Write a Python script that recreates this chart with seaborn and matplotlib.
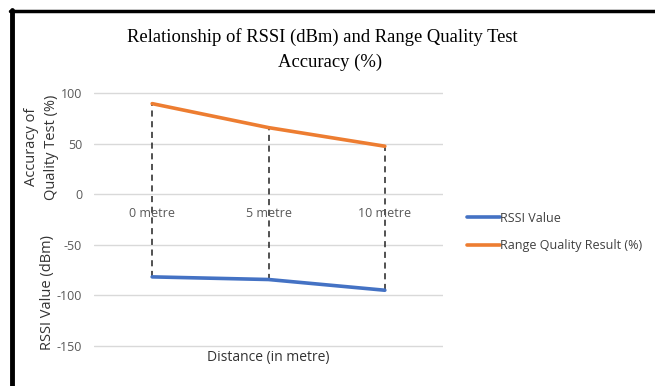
import matplotlib
matplotlib.use("Agg")
import matplotlib.pyplot as plt
import seaborn as sns
import pandas as pd
from matplotlib.lines import Line2D

categories = ["0 metre", "5 metre", "10 metre"]
rssi_values = [-81.7, -84.3, -94.9]
accuracy_values = [89.5, 65.8, 47.4]
y_ticks = [100, 50, 0, -50, -100, -150]

sns.set_theme(style="white")
plt.rcParams["font.family"] = ["Open Sans", "DejaVu Sans"]

W, H = 655, 386
# y: 100 -> px 93, -150 -> px 346 ; pad 5 units each side
ppu = (346 - 93) / 250
top_px = 93 - 5 * ppu
bot_px = 346 + 5 * ppu
fig = plt.figure(figsize=(W / 100, H / 100), dpi=100)
ax = fig.add_axes([94 / W, 1 - bot_px / H, (443 - 94) / W, (bot_px - top_px) / H])

df = pd.DataFrame({
    "Distance": categories * 2,
    "Value": rssi_values + accuracy_values,
    "Series": ["RSSI Value"] * 3 + ["Range Quality Result (%)"] * 3,
})
palette = {"RSSI Value": "#4472C4", "Range Quality Result (%)": "#ED7D31"}
sns.lineplot(data=df, x="Distance", y="Value", hue="Series", palette=palette,
             linewidth=2.6, ax=ax, sort=False, legend=False)

xs = list(range(len(categories)))
ax.vlines(xs, rssi_values, accuracy_values, colors="#222222",
          linestyles=(0, (4, 3)), linewidth=1.1, zorder=1)

ax.set_xlim(-0.5, len(categories) - 0.5)
ax.set_ylim(-155, 105)
ax.set_yticks(y_ticks)
ax.set_yticklabels([str(t) for t in y_ticks], color="#595959", fontsize=9)
ax.tick_params(axis="y", length=0, pad=8.5)
ax.set_xticks([])
ax.set_xlabel("")
ax.set_ylabel("")
for t in y_ticks:
    ax.axhline(t, color="#D9D9D9", linewidth=1, zorder=0)
for s in ax.spines.values():
    s.set_visible(False)

for x, c in zip(xs, categories):
    ax.annotate(c, xy=(x, 0), xytext=(0, -14), textcoords="offset points",
                ha="center", va="center", fontsize=9, color="#595959")

fig.text(268 / W, 1 - 358 / H, "Distance (in metre)", ha="center", va="center",
         fontsize=10, color="#333333")
fig.text(41.5 / W, 1 - 147 / H, "Accuracy of\nQuality Test (%)", ha="center",
         va="center", rotation=90, fontsize=10.5, color="#333333", linespacing=1.4)
fig.text(48 / W, 1 - 293 / H, "RSSI Value (dBm)", ha="center", va="center",
         rotation=90, fontsize=10.5, color="#333333")

fig.text(322 / W, 1 - 37 / H, "Relationship of RSSI (dBm) and Range Quality Test",
         ha="center", va="center", fontsize=13.4, family="Liberation Serif",
         color="#000000")
fig.text(330 / W, 1 - 62 / H, "Accuracy (%)", ha="center", va="center",
         fontsize=13.4, family="Liberation Serif", color="#000000")

handles = [Line2D([], [], color=palette[k], linewidth=2.6) for k in palette]
fig.legend(handles, list(palette.keys()), loc="center left",
           bbox_to_anchor=(456 / W, 1 - 232 / H), frameon=False, fontsize=9,
           handlelength=2.6, handletextpad=0.0, labelspacing=1.15,
           labelcolor="#404040")

fig.add_artist(Line2D([12 / W, 12 / W], [0, 1 - 10 / H], color="black",
                      linewidth=3.5, transform=fig.transFigure))
fig.add_artist(Line2D([10 / W, 1], [1 - 11 / H, 1 - 11 / H], color="black",
                      linewidth=2.5, transform=fig.transFigure))

fig.savefig("out.png", dpi=100)
